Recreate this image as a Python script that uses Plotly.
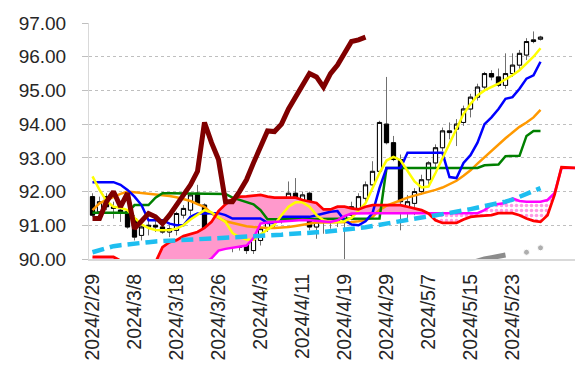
import plotly.graph_objects as go

# ---------------- data ----------------
tick_labels = ["2024/2/29", "2024/3/8", "2024/3/18", "2024/3/26", "2024/4/3", "2024/4/11",
               "2024/4/19", "2024/4/29", "2024/5/7", "2024/5/15", "2024/5/23"]
n_slots = 70  # trading-day slots shown on the axis (65 candles + 5 future slots)

opens = [91.85, 91.4, 91.85, 91.55, 91.45, 91.4, 91.2, 90.7, 90.95, 91.0,
         90.95, 90.8, 90.85, 91.3, 91.45, 91.95, 91.6, 90.8, 91.0, 90.75,
         90.6, 90.45, 90.55, 90.25, 90.55, 90.9, 91.15, 91.2, 91.55, 91.95,
         91.55, 91.95, 90.95, 91.1, 91.3, 91.25, 91.15, 91.3, 91.5, 91.8,
         92.2, 92.6, 94.0, 93.45, 92.95, 91.55, 91.65, 92.0, 92.35, 92.85,
         93.3, 93.75, 93.85, 94.05, 94.45, 94.8, 95.1, 95.5, 95.4, 95.15,
         95.5, 95.75, 96.05, 96.45, 96.52]
highs = [91.95, 91.85, 91.95, 91.7, 91.6, 91.45, 91.3, 91.05, 91.2, 91.2,
         91.1, 91.0, 91.4, 91.6, 91.95, 92.2, 91.65, 91.1, 91.3, 90.9,
         90.7, 90.6, 90.6, 90.7, 91.0, 91.3, 91.35, 91.65, 92.3, 92.4,
         92.0, 92.0, 91.3, 91.4, 91.45, 91.4, 91.45, 91.7, 91.95, 92.3,
         92.9, 94.1, 95.4, 93.65, 93.1, 91.9, 92.1, 92.5, 92.9, 93.4,
         93.9, 94.05, 94.15, 94.55, 94.9, 95.2, 95.55, 95.6, 95.65, 96.1,
         96.1, 96.2, 96.55, 96.75, 96.62]
lows = [91.25, 91.3, 91.45, 91.2, 91.1, 90.9, 90.55, 90.55, 90.7, 90.8,
        90.75, 90.65, 90.7, 91.2, 91.3, 91.6, 90.75, 90.7, 90.65, 90.35,
        90.2, 90.25, 90.15, 90.15, 90.4, 90.8, 90.95, 91.05, 91.4, 91.4,
        91.45, 90.85, 90.6, 90.75, 90.9, 90.95, 89.7, 91.15, 91.4, 91.7,
        92.1, 92.5, 93.4, 92.9, 90.85, 91.2, 91.3, 91.9, 92.2, 92.7,
        93.2, 93.55, 93.35, 93.95, 94.2, 94.7, 95.0, 95.3, 95.1, 95.05,
        95.4, 95.6, 95.9, 96.4, 96.48]
closes = [91.3, 91.7, 91.55, 91.5, 91.35, 90.95, 90.65, 90.95, 91.0, 90.95,
          90.8, 90.9, 91.35, 91.5, 91.9, 91.65, 90.8, 90.95, 90.75, 90.45,
          90.4, 90.35, 90.25, 90.6, 90.9, 91.2, 91.2, 91.6, 91.95, 91.5,
          91.9, 90.95, 91.1, 91.3, 91.25, 91.1, 91.3, 91.55, 91.85, 92.2,
          92.6, 94.05, 93.45, 92.95, 91.7, 91.7, 92.0, 92.35, 92.85, 93.3,
          93.8, 93.8, 94.0, 94.45, 94.8, 95.1, 95.5, 95.4, 95.15, 95.5,
          95.75, 96.1, 96.45, 96.5, 96.58]

tenkan = [92.28, 92.28, 92.28, 92.28, 92.2, 92.05, 91.85, 91.6, 91.15, 91.15,
          91.15, 91.05, 91.0, 91.0, 91.25, 91.35, 91.36, 91.36, 91.36, 91.3,
          91.2, 91.2, 91.2, 91.2, 91.2, 91.07, 91.07, 91.25, 91.25, 91.25,
          91.25, 91.25, 91.3, 91.36, 91.4, 91.42, 91.15, 91.02, 91.0, 91.12,
          91.36, 92.1, 92.7, 92.7, 92.7, 93.15, 93.15, 93.15, 93.15, 93.15,
          93.15, 92.43, 92.4, 92.85, 93.08, 93.45, 94.0, 94.2, 94.45, 94.75,
          94.8, 95.05, 95.35, 95.45, 95.85]
kijun = [91.37, 91.37, 91.37, 91.37, 91.37, 91.37, 91.6, 91.6, 91.6, 91.82,
         91.95, 91.95, 91.95, 91.95, 91.95, 91.95, 91.95, 91.95, 91.95, 91.93,
         91.82, 91.76, 91.7, 91.62, 91.45, 91.18, 91.18, 91.18, 91.18, 91.18,
         91.18, 91.18, 91.18, 91.18, 91.18, 91.18, 91.2, 91.2, 91.2, 91.2,
         91.2, 91.2, 92.7, 92.7, 92.7, 92.7, 92.7, 92.7, 92.7, 92.7,
         92.7, 92.7, 92.7, 92.7, 92.7, 92.7, 92.78, 92.8, 92.8, 93.05,
         93.06, 93.06, 93.65, 93.8, 93.8]
ma_short = [92.45, 92.05, 91.72, 91.55, 91.52, 91.45, 91.22, 91.03, 90.92, 90.86,
            90.85, 90.86, 90.9, 91.0, 91.17, 91.3, 91.45, 91.38, 91.25, 91.1,
            90.77, 90.65, 90.58, 90.57, 90.73, 90.88, 91.02, 91.3, 91.55, 91.68,
            91.68, 91.55, 91.3, 91.15, 91.1, 91.1, 91.12, 91.22, 91.42, 91.65,
            92.1, 92.55, 92.92, 93.03, 92.93, 92.62, 92.3, 92.12, 92.15, 92.55,
            93.0, 93.45, 93.9, 94.3, 94.6, 94.85, 95.0, 95.1, 95.2, 95.33,
            95.45, 95.6, 95.8, 96.0, 96.25]
ma_mid = [91.45, 91.65, 91.75, 91.85, 91.93, 92.0, 91.98, 91.95, 91.93, 91.92,
          91.9, 91.87, 91.83, 91.78, 91.72, 91.63, 91.55, 91.35, 91.22, 91.12,
          91.07, 91.02, 90.97, 90.95, 90.93, 90.92, 90.92, 90.93, 90.95, 90.98,
          91.02, 91.06, 91.08, 91.08, 91.08, 91.08, 91.09, 91.1, 91.12, 91.15,
          91.25, 91.45, 91.58, 91.66, 91.75, 91.82, 91.88, 91.93, 92.0, 92.05,
          92.12, 92.22, 92.32, 92.47, 92.63, 92.83, 93.02, 93.2, 93.38, 93.58,
          93.75, 93.92, 94.05, 94.2, 94.42]
ma_long = [90.2, 90.27, 90.33, 90.38, 90.41, 90.44, 90.46, 90.48, 90.5, 90.52,
           90.53, 90.55, 90.56, 90.57, 90.58, 90.6, 90.61, 90.62, 90.62, 90.63,
           90.63, 90.64, 90.64, 90.65, 90.66, 90.68, 90.7, 90.72, 90.74, 90.76,
           90.77, 90.78, 90.79, 90.8, 90.82, 90.84, 90.86, 90.88, 90.9, 90.94,
           90.98, 91.02, 91.06, 91.1, 91.14, 91.17, 91.2, 91.23, 91.26, 91.29,
           91.32, 91.36, 91.4, 91.44, 91.48, 91.52, 91.56, 91.6, 91.65, 91.7,
           91.76, 91.84, 91.92, 92.0, 92.1]
senkou_a = [89.7, 89.7, 89.68, 89.66, 89.64, 89.62, 89.6, 89.6, 89.6, 89.62,
            89.65, 89.68, 89.7, 89.72, 89.75, 89.8, 89.88, 90.02, 90.25, 90.3,
            90.33, 90.35, 90.4, 90.62, 91.05, 91.08, 91.1, 91.12, 91.14, 91.15,
            91.16, 91.15, 91.13, 91.1, 91.1, 91.15, 91.27, 91.35, 91.36, 91.36,
            91.36, 91.36, 91.36, 91.36, 91.36, 91.36, 91.36, 91.36, 91.36, 91.36,
            91.36, 91.36, 91.36, 91.36, 91.36, 91.36, 91.45, 91.6, 91.63, 91.66,
            91.8, 91.72, 91.7, 91.7, 91.7, 91.75, 91.95, 92.7, 92.7, 92.7]
senkou_b = [90.06, 90.06, 90.06, 90.06, 89.95, 89.85, 89.8, 89.8, 89.8, 89.9,
            90.35, 90.5, 90.56, 90.68, 90.75, 90.8, 90.92, 91.1, 91.42, 91.62,
            91.78, 91.85, 91.86, 91.87, 91.9, 91.85, 91.82, 91.82, 91.82, 91.82,
            91.75, 91.7, 91.66, 91.47, 91.47, 91.55, 91.55, 91.5, 91.47, 91.55,
            91.6, 91.6, 91.6, 91.6, 91.6, 91.55, 91.5, 91.45, 91.35, 91.15,
            91.07, 91.07, 91.07, 91.17, 91.25, 91.27, 91.28, 91.3, 91.36, 91.36,
            91.36, 91.3, 91.2, 91.13, 91.1, 91.3, 91.9, 92.72, 92.7, 92.7]
chikou = [91.2, 91.2, 91.7, 92.0, 91.55, 91.95, 90.9, 91.1, 91.35, 91.25,
          91.05, 91.3, 91.6, 91.85, 92.2, 92.6, 94.05, 93.45, 92.95, 91.7,
          91.7, 92.0, 92.35, 92.85, 93.3, 93.8, 93.78, 94.0, 94.45, 94.8,
          95.1, 95.5, 95.4, 95.1, 95.5, 95.75, 96.1, 96.45, 96.5, 96.58]
ma_very_long = [None] * 54 + [89.88, 89.95, 90.0, 90.04, 90.08, 90.12, None, None, 90.2, None, 90.33]

# ---------------- figure ----------------
x_c = list(range(len(closes)))
x_all = list(range(n_slots))
x_chikou = list(range(len(chikou)))
x_vl = list(range(len(ma_very_long)))

cloud_low = [min(a, b) for a, b in zip(senkou_a, senkou_b)]
cloud_high = [max(a, b) for a, b in zip(senkou_a, senkou_b)]

fig = go.Figure()

# cloud: solid pink where span B is above span A
fig.add_trace(go.Scatter(x=x_all, y=cloud_low, mode="lines", line=dict(width=0),
                         hoverinfo="skip", showlegend=False))
fig.add_trace(go.Scatter(x=x_all, y=senkou_b, mode="lines", line=dict(width=0),
                         fill="tonexty", fillcolor="#FF99CC", hoverinfo="skip", showlegend=False))
# cloud: dotted pink where span A is above span B
fig.add_trace(go.Scatter(x=x_all, y=senkou_b, mode="lines", line=dict(width=0),
                         hoverinfo="skip", showlegend=False))
fig.add_trace(go.Scatter(x=x_all, y=cloud_high, mode="lines", line=dict(width=0),
                         fill="tonexty", fillcolor="white",
                         fillpattern=dict(shape=".", fgcolor="#FF33CC", bgcolor="white",
                                          size=5, solidity=0.4),
                         hoverinfo="skip", showlegend=False))

# candles: gray wicks, then black-outlined bodies
fig.add_trace(go.Candlestick(x=x_c, open=opens, high=highs, low=lows, close=closes,
                             increasing=dict(line=dict(color="#707070", width=1), fillcolor="rgba(0,0,0,0)"),
                             decreasing=dict(line=dict(color="#707070", width=1), fillcolor="rgba(0,0,0,0)"),
                             whiskerwidth=0, showlegend=False, hoverinfo="skip"))
body_hi = [max(o, c) for o, c in zip(opens, closes)]
body_lo = [min(o, c) for o, c in zip(opens, closes)]
fig.add_trace(go.Candlestick(x=x_c, open=opens, high=body_hi, low=body_lo, close=closes,
                             increasing=dict(line=dict(color="black", width=1), fillcolor="white"),
                             decreasing=dict(line=dict(color="black", width=1), fillcolor="black"),
                             whiskerwidth=0, showlegend=False, hoverinfo="skip"))

def line(x, y, color, width, dash="solid"):
    fig.add_trace(go.Scatter(x=x, y=y, mode="lines", line=dict(color=color, width=width, dash=dash),
                             hoverinfo="skip", showlegend=False, connectgaps=False))

line(x_c, ma_mid, "#FF9900", 2.5)
line(x_c, kijun, "#008000", 2.5)
line(x_c, tenkan, "#0000FF", 2.5)
line(x_c, ma_short, "#FFFF00", 2.5)
line(x_all, senkou_a, "#FF00FF", 2.5)
line(x_all, senkou_b, "#FF0000", 2.75)
line(x_c, ma_long, "#1EBEF0", 4.5, "12px,6px")
line(x_chikou, chikou, "#800000", 5)
fig.add_trace(go.Scatter(x=x_vl, y=ma_very_long, mode="lines+markers",
                         line=dict(color="#8C8C8C", width=5),
                         marker=dict(color="#8C8C8C", size=[0] * 62 + [6, 0, 6]),
                         hoverinfo="skip", showlegend=False, connectgaps=False))

# the page body has an 8px default margin, so the figure is sized/offset for it
font_family = "Liberation Sans, Arial, sans-serif"
fig.update_layout(
    width=575, height=368,
    margin=dict(l=81, r=4, t=15, b=117, autoexpand=False),
    paper_bgcolor="white", plot_bgcolor="white",
    showlegend=False, hovermode=False,
    boxgap=0.15,
    font=dict(family=font_family, size=19, color="#262626"),
    xaxis=dict(range=[-0.5, n_slots - 0.5], tickmode="array",
               tickvals=list(range(0, 6 * len(tick_labels), 6)), ticktext=tick_labels,
               tickangle=-90, showgrid=False, zeroline=False, ticks="",
               showline=True, linecolor="#D9D9D9", linewidth=2, automargin=False,
               rangeslider=dict(visible=False), ticklabelstandoff=5,
               tickfont=dict(size=19.5)),
    yaxis=dict(range=[90, 97], dtick=1, tickformat=".2f", showgrid=True,
               gridcolor="#BFBFBF", griddash="dot", gridwidth=1, zeroline=False,
               ticks="outside", ticklen=6, tickcolor="#BFBFBF",
               showline=True, linecolor="#D9D9D9", linewidth=1, automargin=False,
               ticklabelstandoff=12, tickfont=dict(size=19)),
)

fig.write_html("out.html")
